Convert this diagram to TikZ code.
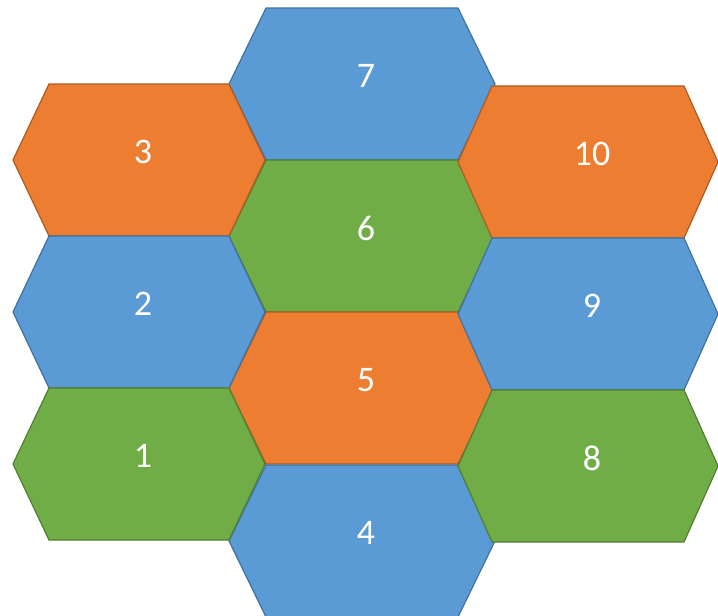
\documentclass[tikz,border=0pt]{standalone}
\usepackage{fontspec}
\setmainfont{Carlito}

\definecolor{tileblue}{HTML}{5B9BD5}
\definecolor{tilebluerim}{HTML}{41719C}
\definecolor{tileorange}{HTML}{ED7D31}
\definecolor{tileorangerim}{HTML}{AE5A21}
\definecolor{tilegreen}{HTML}{70AD47}
\definecolor{tilegreenrim}{HTML}{507E32}

\tikzset{
    tilebase/.style={line width=1.2pt, line join=miter},
    bluetile/.style={tilebase, fill=tileblue, draw=tilebluerim},
    orangetile/.style={tilebase, fill=tileorange, draw=tileorangerim},
    greentile/.style={tilebase, fill=tilegreen, draw=tilegreenrim},
    tilelabel/.style={text=white, inner sep=0pt, font=\fontsize{36}{43}\selectfont},
}

% centre x, centre y, half width, inset, style, label
\newcommand{\tile}[6]{%
    \draw[#5] ([shift={(-#3,0)}]#1,#2) -- ++(#4,-76) -- ++({2*(#3-#4)},0) -- ++(#4,76)
        -- ++(-#4,76) -- ++({-2*(#3-#4)},0) -- cycle;
    \node[tilelabel] (tile#6) at ([shift={(4,-8)}]#1,#2) {#6};
}

\begin{document}
\begin{tikzpicture}[x=1pt, y=-1pt]
    \useasboundingbox (0,0) rectangle (718,616);

    % middle column
    \tile{362}{84}{133}{37}{bluetile}{7}
    \tile{362}{236}{133}{37}{greentile}{6}
    \tile{362}{388}{133}{37}{orangetile}{5}
    \tile{362}{541}{133}{37}{bluetile}{4}

    % left column
    \tile{139}{160}{126}{36}{orangetile}{3}
    \tile{139}{312}{126}{36}{bluetile}{2}
    \tile{139}{464}{126}{36}{greentile}{1}

    % right column
    \tile{588}{162}{130}{34}{orangetile}{10}
    \tile{588}{314}{130}{34}{bluetile}{9}
    \tile{588}{466}{130}{34}{greentile}{8}
\end{tikzpicture}
\end{document}
